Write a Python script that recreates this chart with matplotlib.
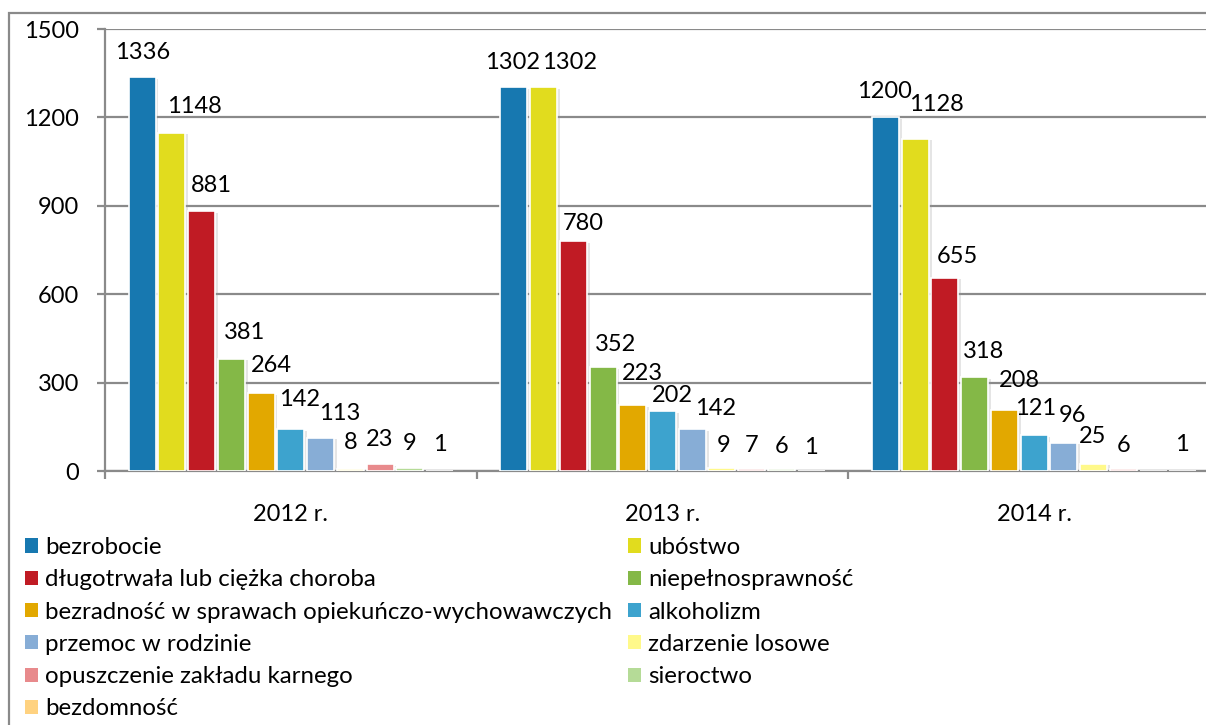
import numpy as np
import matplotlib
matplotlib.use("Agg")
import matplotlib.pyplot as plt
from matplotlib.patches import Patch, Rectangle
import matplotlib.patheffects as pe

plt.rcParams['font.family'] = ['Lato', 'DejaVu Sans']

groups = ["2012 r.", "2013 r.", "2014 r."]
series = ["bezrobocie", "ubóstwo", "długotrwała lub ciężka choroba",
          "niepełnosprawność", "bezradność w sprawach opiekuńczo-wychowawczych",
          "alkoholizm", "przemoc w rodzinie", "zdarzenie losowe",
          "opuszczenie zakładu karnego", "sieroctwo", "bezdomność"]
colors = ["#1778B0", "#E1DC1E", "#C01B24", "#84B847", "#E2A800", "#3DA3CE",
          "#87ADD6", "#FFF98A", "#E88A8C", "#B5DB97", "#FFD280"]

v2012 = [1336, 1148, 881, 381, 264, 142, 113, 8, 23, 9, 1]
v2013 = [1302, 1302, 780, 352, 223, 202, 142, 9, 7, 6, 1]
v2014 = [1200, 1128, 655, 318, 208, 121, 96, 25, 6, np.nan, 1]
values = np.array([v2012, v2013, v2014], dtype=float)  # groups x series

# label offsets (pixels) relative to bar centre / bar top (Excel-like placement)
dx_px = [[0, 22, 10, 13, 10, 9, 19, 0, 0, 0, 0],
         [-1, 26, 10, 13, 10, 10, 23, 2, 0, 0, 0],
         [-1, 21, 12, 9, 15, 1.5, 9, -1, 0, 0, -1]]
dy_px = [[27, 28, 28, 28, 30, 32, 26, 28, 27, 27, 28],
         [27, 27, 20, 25, 34, 18, 23, 25, 25, 25, 25],
         [28, 36, 23, 28, 31, 29, 29, 29, 26, 28, 28]]

W, H = 1206, 725
fig = plt.figure(figsize=(W / 100, H / 100), dpi=100)
ax = fig.add_axes([105 / W, (H - 471) / H, (1220 - 105) / W, 442 / H])

gray = "#8a8a8a"
FS = 17
LFS = 17.3
pitch = 0.08
bw = 0.0726
xg = np.arange(len(groups))
for i, name in enumerate(series):
    xs = xg + (i - 5) * pitch
    hs = values[:, i]
    bars = ax.bar(xs, np.nan_to_num(hs), width=bw, color=colors[i],
                  edgecolor="white", linewidth=1.2, zorder=3)
    for b in bars:
        b.set_path_effects([pe.SimplePatchShadow(offset=(2, -1), shadow_rgbFace="#999999", alpha=0.25),
                            pe.Normal()])
    for g in range(len(groups)):
        v = hs[g]
        if np.isnan(v):
            continue
        ax.annotate(f"{int(v)}", xy=(xs[g], v),
                    xytext=(dx_px[g][i] * 0.72, (dy_px[g][i] - 8.5) * 0.72),
                    textcoords="offset points", ha="center", va="baseline",
                    fontsize=FS, color="black", zorder=5)

ax.set_xlim(-0.5, 2.5)
ax.set_ylim(0, 1500)
ax.set_yticks(np.arange(0, 1501, 300))
ax.yaxis.grid(True, color=gray, linewidth=1.6, zorder=0)
ax.set_axisbelow(True)
for s in ["top", "right"]:
    ax.spines[s].set_visible(False)
for s in ["left", "bottom"]:
    ax.spines[s].set_color(gray)
    ax.spines[s].set_linewidth(1.6)
ax.tick_params(axis="y", direction="out", length=5.8, width=1.6, color=gray,
               pad=13, labelsize=FS)
ax.set_xticks([-0.5, 0.5, 1.5, 2.5])
ax.set_xticklabels([])
ax.set_xticks(xg, minor=True)
ax.set_xticklabels(groups, minor=True)
ax.tick_params(axis="x", which="major", direction="out", length=5.8, width=1.6, color=gray)
ax.tick_params(axis="x", which="minor", length=0, pad=24, labelsize=FS)

handles = [Patch(facecolor=c, edgecolor="none") for c in colors]
left_idx = [0, 2, 4, 6, 8, 10]
right_idx = [1, 3, 5, 7, 9]
common = dict(frameon=False, handlelength=0.53, handleheight=0.53, handletextpad=0.3,
              labelspacing=0.47, borderpad=0, borderaxespad=0, fontsize=LFS,
              loc="upper left")
leg1 = fig.legend([handles[i] for i in left_idx], [series[i] for i in left_idx],
                  bbox_to_anchor=(25 / W, 1 - 537 / H), **common)
leg2 = fig.legend([handles[i] for i in right_idx], [series[i] for i in right_idx],
                  bbox_to_anchor=(628 / W, 1 - 537 / H), **common)

fig.patches.append(Rectangle((8.5 / W, -0.05), 1.2, 1 - 13 / H + 0.05,
                             transform=fig.transFigure, fill=False,
                             edgecolor=gray, linewidth=1.6))

fig.savefig("out.png", dpi=100, facecolor="white")
